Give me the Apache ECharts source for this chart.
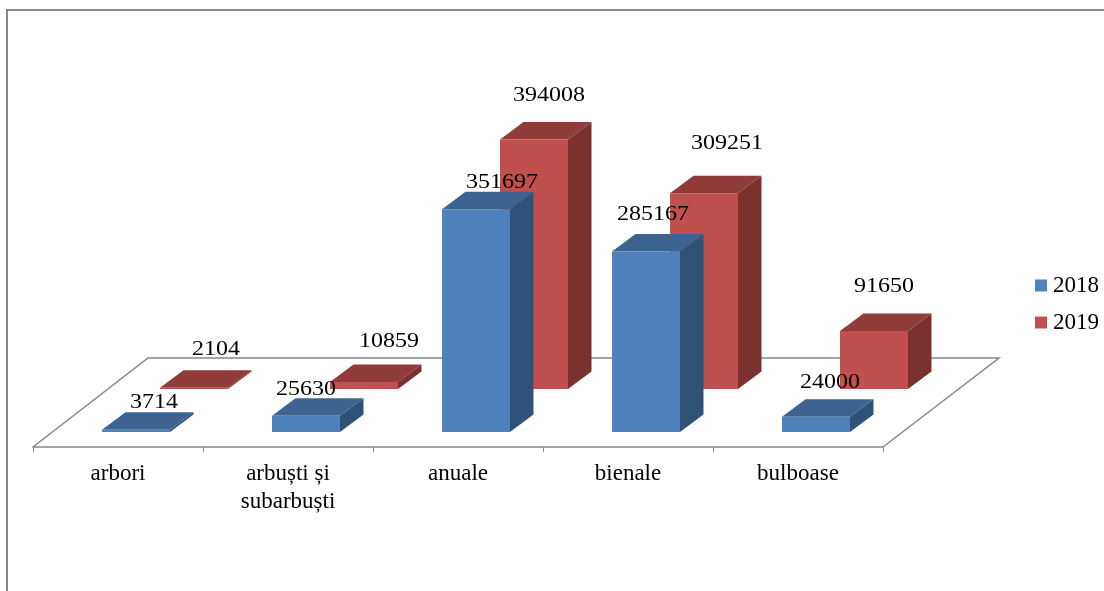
<!DOCTYPE html>
<html>
<head>
<meta charset="utf-8">
<style>html,body{margin:0;padding:0;background:#fff}#c{width:1104px;height:591px}</style>
<script src="https://cdn.jsdelivr.net/npm/echarts@6/dist/echarts.min.js"></script>
</head>
<body>
<div id="c"></div>
<script>
const categories = ['arbori', 'arbuști și\nsubarbuști', 'anuale', 'bienale', 'bulboase'];
const seriesNames = ['2018', '2019'];
const values2018 = [3714, 25630, 351697, 285167, 24000];
const values2019 = [2104, 10859, 394008, 309251, 91650];

// label nudges relative to the top of each bar's front face (style only)
const labelNudge2018 = [[18, -28], [0, -27], [26, -28], [7, -38], [14, -35]];
const labelNudge2019 = [[22, -39], [25, -41], [15, -45], [23, -50], [10, -45]];

const FONT = '"Liberation Serif", "Times New Roman", serif';
const gray = '#868686';

function bar3d(colors, centerShift, backX, backY, nudges) {
  const dx = 23.5, dy = 17.5;
  return function (params, api) {
    const i = api.value(0), v = api.value(1);
    const band = api.size([1, 0])[0];
    const w = band * 0.4;
    const base = api.coord([i, 0]);
    const top = api.coord([i, v]);
    const x0 = base[0] + centerShift - w / 2 + backX, x1 = x0 + w;
    const yb = base[1] - backY, yt = top[1] - backY;
    const nudge = nudges[i];
    return {
      type: 'group',
      children: [
        { type: 'polygon', shape: { points: [[x1, yb], [x1 + dx, yb - dy], [x1 + dx, yt - dy], [x1, yt]] }, style: { fill: colors.side } },
        { type: 'polygon', shape: { points: [[x0, yt], [x1, yt], [x1 + dx, yt - dy], [x0 + dx, yt - dy]] }, style: { fill: colors.top } },
        { type: 'rect', shape: { x: x0, y: yt, width: w, height: yb - yt }, style: { fill: colors.front } },
        { type: 'text', x: (x0 + x1) / 2 + nudge[0], y: yt + nudge[1] + 1, scaleX: 1.2,
          style: { text: String(v), fill: '#000', font: '20px ' + FONT, textAlign: 'center', textVerticalAlign: 'middle' } }
      ]
    };
  };
}

const blue = { front: '#4F81BD', top: '#3D6490', side: '#2F5279' };
const red = { front: '#C0504D', top: '#903C3A', side: '#7A3130' };

const chart = echarts.init(document.getElementById('c'), null, { renderer: 'canvas' });
chart.setOption({
  animation: false,
  backgroundColor: '#fff',
  graphic: [
    { type: 'polyline', z: -10, shape: { points: [[7, 591], [7, 10], [1104, 10]] }, style: { stroke: gray, lineWidth: 2, fill: null } },
    { type: 'polyline', z: -9, shape: { points: [[33, 447], [148, 358], [999, 358], [883, 447]] }, style: { stroke: gray, lineWidth: 1.5, fill: null } }
  ],
  grid: { left: 33, width: 850, top: 52, height: 380 },
  legend: {
    orient: 'vertical', left: 1035, top: 274, padding: 0, itemWidth: 12, itemHeight: 12, itemGap: 14,
    icon: 'rect', selectedMode: false,
    data: seriesNames,
    textStyle: { fontFamily: FONT, fontSize: 23, color: '#000', padding: [0, 0, 0, 1] }
  },
  xAxis: {
    type: 'category', data: categories, offset: 15,
    axisLine: { onZero: false, lineStyle: { color: gray, width: 1.5 } },
    axisTick: { show: true, length: 5, lineStyle: { color: gray, width: 1 }, alignWithLabel: false },
    axisLabel: { interval: 0, margin: 13, fontFamily: FONT, fontSize: 23, lineHeight: 28, color: '#000' }
  },
  yAxis: { type: 'value', min: 0, max: 600000, show: false, splitLine: { show: false } },
  series: [
    { name: seriesNames[1], type: 'custom', z: 2, itemStyle: { color: red.front },
      data: values2019.map((v, i) => [i, v]), encode: { x: 0, y: 1 },
      renderItem: bar3d(red, 18, 58, 43, labelNudge2019) },
    { name: seriesNames[0], type: 'custom', z: 3, itemStyle: { color: blue.front },
      data: values2018.map((v, i) => [i, v]), encode: { x: 0, y: 1 },
      renderItem: bar3d(blue, 18, 0, 0, labelNudge2018) }
  ]
});
</script>
</body>
</html>
